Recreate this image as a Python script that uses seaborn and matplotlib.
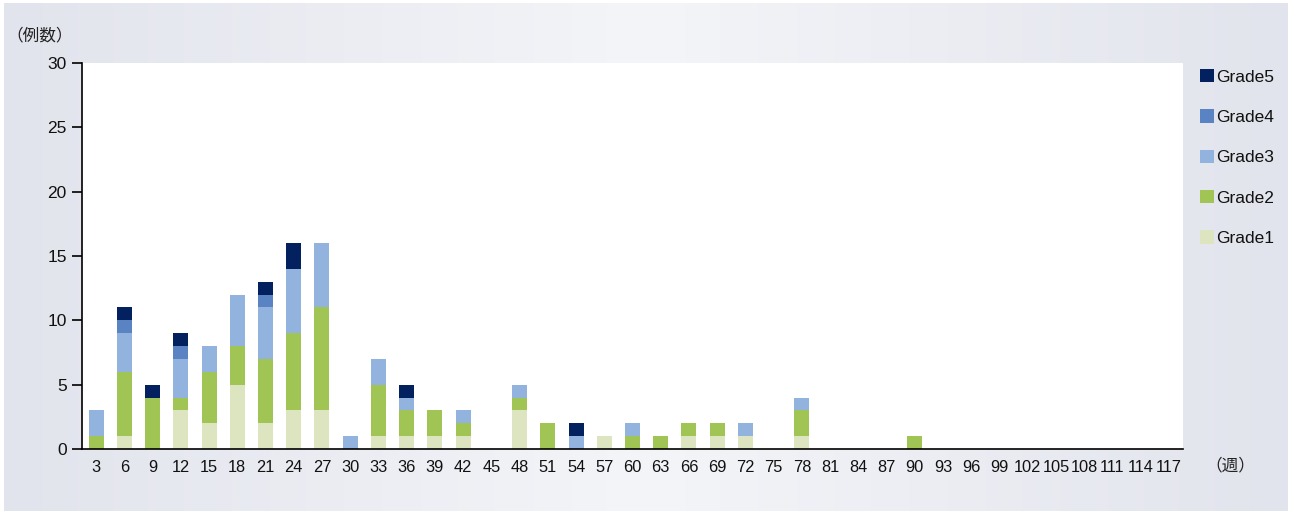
import numpy as np
import pandas as pd
import matplotlib.pyplot as plt
import seaborn as sns
from matplotlib.patches import Patch

sns.set_theme(style="white")
plt.rcParams['font.family'] = ['Liberation Sans', 'Noto Sans CJK JP', 'DejaVu Sans']

# Data
weeks = list(range(3, 118, 3))
grade1 = [0, 1, 0, 3, 2, 5, 2, 3, 3, 0, 1, 1, 1, 1, 0, 3, 0, 0, 1, 0,
          0, 1, 1, 1, 0, 1, 0, 0, 0, 0, 0, 0, 0, 0, 0, 0, 0, 0, 0]
grade2 = [1, 5, 4, 1, 4, 3, 5, 6, 8, 0, 4, 2, 2, 1, 0, 1, 2, 0, 0, 1,
          1, 1, 1, 0, 0, 2, 0, 0, 0, 1, 0, 0, 0, 0, 0, 0, 0, 0, 0]
grade3 = [2, 3, 0, 3, 2, 4, 4, 5, 5, 1, 2, 1, 0, 1, 0, 1, 0, 1, 0, 1,
          0, 0, 0, 1, 0, 1, 0, 0, 0, 0, 0, 0, 0, 0, 0, 0, 0, 0, 0]
grade4 = [0, 1, 0, 1, 0, 0, 1, 0, 0, 0, 0, 0, 0, 0, 0, 0, 0, 0, 0, 0,
          0, 0, 0, 0, 0, 0, 0, 0, 0, 0, 0, 0, 0, 0, 0, 0, 0, 0, 0]
grade5 = [0, 1, 1, 1, 0, 0, 1, 2, 0, 0, 0, 1, 0, 0, 0, 0, 0, 1, 0, 0,
          0, 0, 0, 0, 0, 0, 0, 0, 0, 0, 0, 0, 0, 0, 0, 0, 0, 0, 0]

grade_names = ["Grade1", "Grade2", "Grade3", "Grade4", "Grade5"]
grade_colors = ["#dde4c0", "#a1c555", "#93b3df", "#5a83c3", "#03215f"]

df = pd.DataFrame({"week": [str(w) for w in weeks],
                   "Grade1": grade1, "Grade2": grade2, "Grade3": grade3,
                   "Grade4": grade4, "Grade5": grade5})

fig = plt.figure(figsize=(12.9, 5.14), dpi=100)
fig.patch.set_facecolor("white")

# gradient background panel
bg = fig.add_axes([4 / 1290, 3 / 514, 1284 / 1290, 508 / 514])
xs = np.linspace(0, 1, 400)
c_edge = np.array([0xe2, 0xe4, 0xed]) / 255
c_mid = np.array([0xf4, 0xf5, 0xf8]) / 255
w = 1 - np.abs(xs - 0.5) * 2
grad = c_edge[None, :] * (1 - w[:, None]) + c_mid[None, :] * w[:, None]
bg.imshow(grad[None, :, :], aspect="auto", extent=[0, 1, 0, 1])
bg.set_axis_off()

ax = fig.add_axes([82 / 1290, 65 / 514, 1101 / 1290, 386 / 514])
ax.set_facecolor("white")

# stacked bars: draw cumulative totals from top grade down
cum = df[grade_names].cumsum(axis=1)
for name, color in reversed(list(zip(grade_names, grade_colors))):
    sns.barplot(x=df["week"], y=cum[name], color=color, width=0.53,
                saturation=1, linewidth=0, edgecolor="none", ax=ax, zorder=2)

ax.set_xlim(-0.5, len(weeks) - 0.5)
ax.set_ylim(0, 30)
ax.set_yticks(range(0, 31, 5))
ax.set_xlabel("")
ax.set_ylabel("")

for side in ["top", "right"]:
    ax.spines[side].set_visible(False)
for side in ["left", "bottom"]:
    ax.spines[side].set_color("black")
    ax.spines[side].set_linewidth(1.2)

ax.set_xticks(range(len(weeks)))
ax.set_xticklabels([str(w) for w in weeks], fontsize=11.8, color="#111111",
                   family=['Liberation Sans Narrow', 'Liberation Sans'])
ax.set_xticks(np.arange(-0.5, len(weeks), 1), minor=True)
ax.tick_params(axis="x", which="major", length=0, pad=8)
ax.tick_params(axis="x", which="minor", length=7, width=1.2, direction="out", color="black")
ax.tick_params(axis="y", length=7, width=1.2, direction="out", color="black",
               labelsize=12.5, labelcolor="#111111", pad=4, left=True)
ax.grid(False)

fig.text(40 / 1290, 1 - 36 / 514, "（例数）", fontsize=12, ha="center", va="center",
         family=['Noto Sans CJK JP', 'DejaVu Sans'], color="#222222")
fig.text(1230 / 1290, 1 - 466 / 514, "（週）", fontsize=12, ha="center", va="center",
         family=['Noto Sans CJK JP', 'DejaVu Sans'], color="#222222")

handles = [Patch(facecolor=c, edgecolor="none") for c in reversed(grade_colors)]
leg = fig.legend(handles, list(reversed(grade_names)), loc="upper left",
                 bbox_to_anchor=(1200 / 1290, 1 - 69 / 514), frameon=False, fontsize=12.5,
                 handlelength=0.8, handleheight=0.8, handletextpad=0.15,
                 labelspacing=1.42, borderpad=0, borderaxespad=0)
for t in leg.get_texts():
    t.set_color("#111111")

fig.savefig("out.png", dpi=100, facecolor=fig.get_facecolor())
